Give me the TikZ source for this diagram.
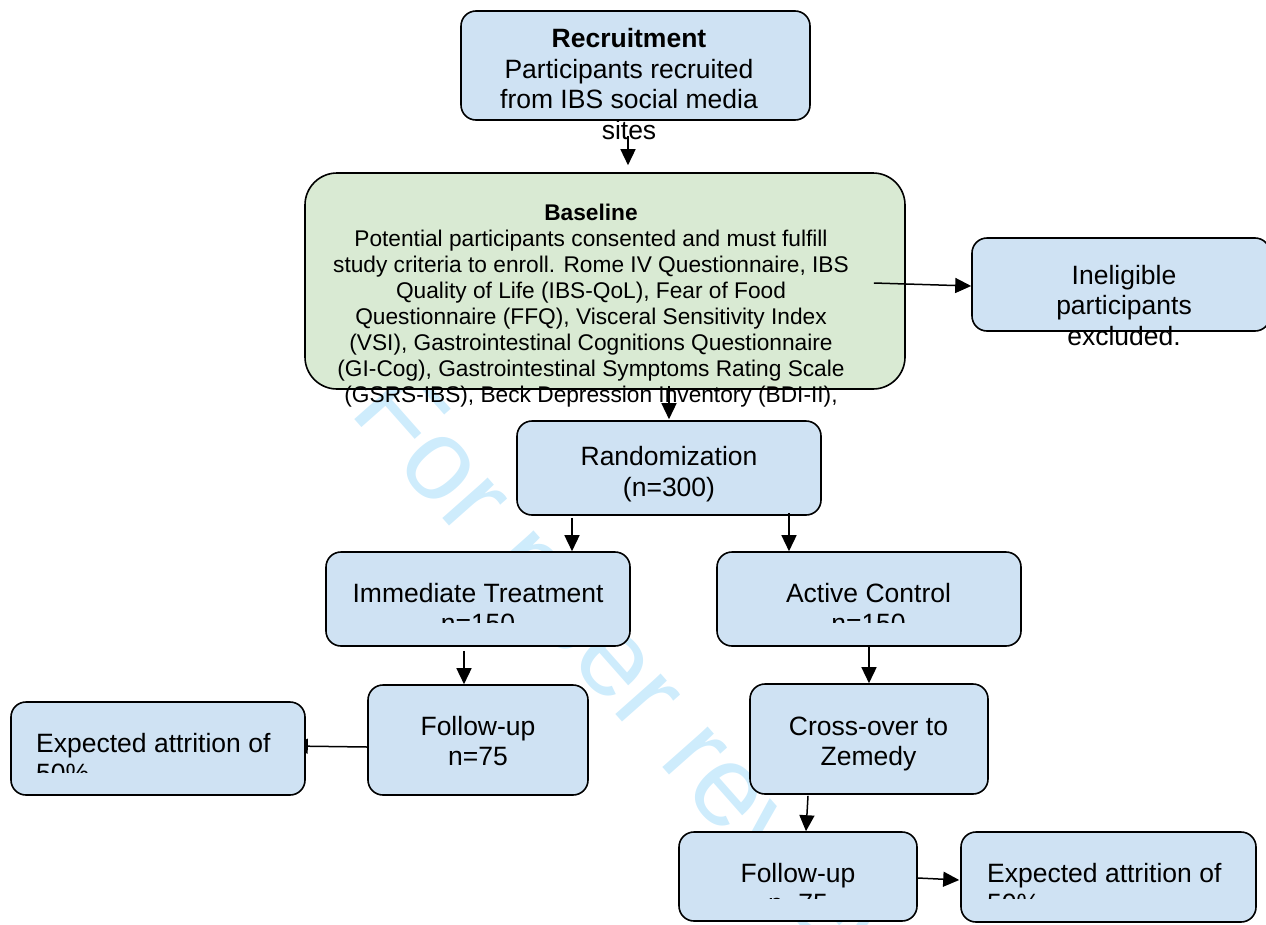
\documentclass[tikz,border=0pt]{standalone}
\usepackage{fontspec}
\setmainfont{Liberation Sans}
\definecolor{flowblue}{RGB}{207,226,243}
\definecolor{flowgreen}{RGB}{217,234,211}
\definecolor{flowmark}{RGB}{206,236,252}
\usetikzlibrary{arrows.meta}
\pgfdeclarelayer{bg}
\pgfsetlayers{bg,main}

\begin{document}
\begin{tikzpicture}[x=1pt,y=-1pt,
  flowbox/.style={draw,line width=1.6pt,rounded corners=15pt,fill=flowblue,inner sep=0pt},
  flowtxt/.style={align=center,inner sep=0pt,font=\fontsize{26.5}{30.5}\selectfont},
  flowarr/.style={-{Triangle[length=16pt,width=15pt]},line width=1.5pt}
]
  \useasboundingbox (0,0) rectangle (1266,924);
  \clip (0,0) rectangle (1266,924);
  % watermark
  \node[text=flowmark,font=\fontsize{115}{115}\selectfont,inner sep=0pt,
    anchor=base west,rotate=-48.5] (mark) at (348,412) {For peer review};
  % boxes
  \node[flowbox,minimum width=349pt,minimum height=109pt] (recruit) at (635.5,65.5) {};
  \node[flowbox,fill=flowgreen,rounded corners=32pt,minimum width=600pt,minimum height=216pt] (base) at (605,281) {};
  \node[flowbox,minimum width=298pt,minimum height=93pt] (inelig) at (1121,284.5) {};
  \node[flowbox,minimum width=304pt,minimum height=94pt] (random) at (669,468) {};
  \node[flowbox,minimum width=304pt,minimum height=94pt] (treat) at (478,599) {};
  \node[flowbox,minimum width=304pt,minimum height=94pt] (control) at (869,599) {};
  \node[flowbox,minimum width=220pt,minimum height=110pt] (followA) at (478,740) {};
  \node[flowbox,minimum width=294pt,minimum height=93pt] (attrA) at (158,748.5) {};
  \node[flowbox,minimum width=238pt,minimum height=110pt] (cross) at (869,739) {};
  \node[flowbox,minimum width=238pt,minimum height=89pt] (followB) at (798,876.5) {};
  \node[flowbox,minimum width=295pt,minimum height=90pt] (attrB) at (1108.5,877) {};
  % texts
  \node[flowtxt] (recruit-t) at (629,84) {\textbf{Recruitment}\\Participants recruited\\from IBS social media\\sites};
  \node[flowtxt,font=\fontsize{22.7}{26}\selectfont] (base-t) at (591,306) {\textbf{Baseline}\\
    Potential participants consented and must fulfill\\
    study criteria to enroll. Rome IV Questionnaire, IBS\\
    Quality of Life (IBS-QoL), Fear of Food\\
    Questionnaire (FFQ), Visceral Sensitivity Index\\
    (VSI), Gastrointestinal Cognitions Questionnaire\\
    (GI-Cog), Gastrointestinal Symptoms Rating Scale\\
    (GSRS-IBS), Beck Depression Inventory (BDI-II),};
  \node[flowtxt] (inelig-t) at (1124,305.5) {Ineligible\\participants\\excluded.};
  \node[flowtxt] (random-t) at (669,474) {Randomization\\(n=300)};
  \begin{scope}
    \clip (320,540) rectangle (1030,622);
    \node[flowtxt] (treat-t) at (478,608) {Immediate Treatment\\n=150};
    \node[flowtxt] (control-t) at (868.5,608) {Active Control\\n=150};
  \end{scope}
  \node[flowtxt] (followA-t) at (478,741) {Follow-up\\n=75};
  \node[flowtxt] (cross-t) at (868.5,744) {Cross-over to\\Zemedy};
  \begin{scope}
    \clip (0,700) rectangle (320,772);
    \node[flowtxt,align=left,anchor=west] (attrA-t) at (36,758) {Expected attrition of\\50\%};
  \end{scope}
  \begin{scope}
    \clip (670,830) rectangle (1266,898);
    \node[flowtxt] (followB-t) at (798,888) {Follow-up\\n=75};
    \node[flowtxt,align=left,anchor=west] (attrB-t) at (987,888) {Expected attrition of\\50\%};
  \end{scope}
  % connectors
  \draw[flowarr] ([xshift=-7.5pt,yshift=-15pt]recruit.south) -- ([xshift=23pt,yshift=7pt]base.north);
  \draw[flowarr] ([xshift=-32pt,yshift=-2pt]base.east) -- ([yshift=-1.5pt]inelig.west);
  \draw[flowarr] ([xshift=64pt,yshift=4pt]base.south) -- ([yshift=1pt]random.north);
  \draw[flowarr] ([xshift=-97pt,yshift=-2pt]random.south) -- ([xshift=94pt]treat.north);
  \draw[flowarr] ([xshift=120pt,yshift=3pt]random.south) -- ([xshift=-80pt]control.north);
  \draw[flowarr] ([xshift=-14pt,yshift=-4pt]treat.south) -- ([xshift=-14pt]followA.north);
  \draw[flowarr] (control.south) -- (cross.north);
  \draw[flowarr] ([xshift=-61pt,yshift=-1pt]cross.south) -- ([xshift=8pt]followB.north);
  \draw[flowarr] ([yshift=-1.5pt]followB.east) -- ([xshift=-1pt,yshift=-3pt]attrB.west);
  \begin{pgfonlayer}{bg}
    \draw[flowarr] ([yshift=-7pt]followA.west) -- ([xshift=-14pt,yshift=2.5pt]attrA.east);
  \end{pgfonlayer}
\end{tikzpicture}
\end{document}
